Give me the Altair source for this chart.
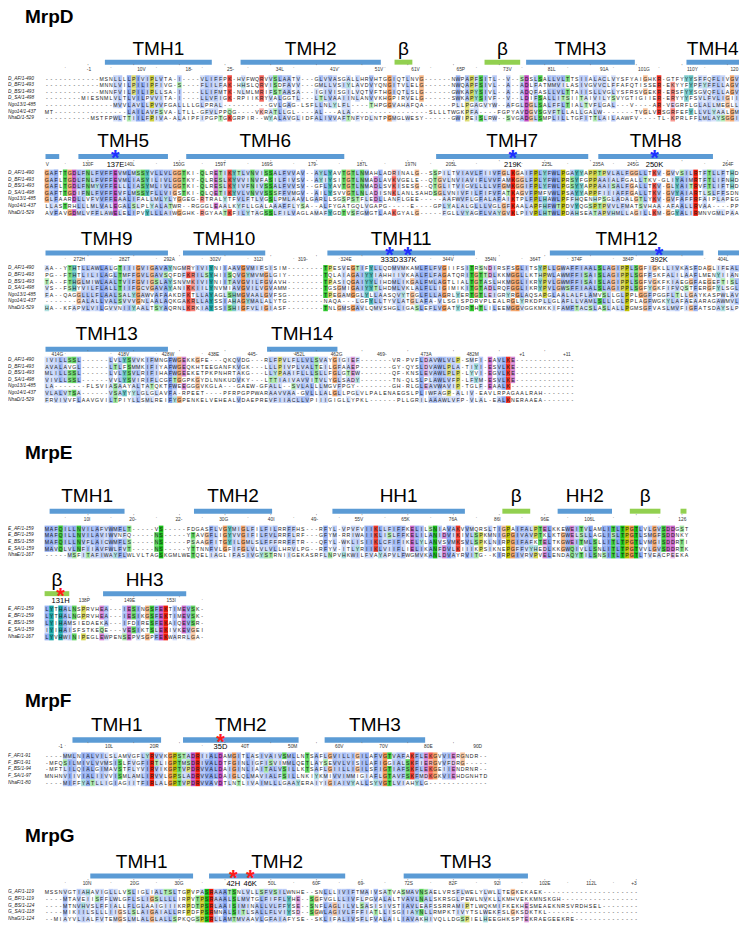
import altair as alt
import pandas as pd

alt.data_transformers.disable_max_rows()

# ------------------------------------------------------------------ data
D_NAMES = ["D_AF/1-490", "D_BF/1-493", "D_BS/1-493", "D_SA/1-498", "Ngo13/1-485", "Ngo14/1-437", "NhaD/1-529"]
D_B1 = [
    "------------MSNLLLLPIVIPLVTA-I----VLIFFPK-HVFWQRVVSLAATV---GLVVASGALLHRVHTGGIQTLNVG------NWPAPFSITL--V--SDSLSALLVLTTSIIALACLVYSFYAIGHKR-GTFYYYSFFQFLIVGVH",
    "------------MNNLVILPILIPFIVG-S----FLILFAK-HHSLQRVISDFAVV---GMLLVSIYLAVDVYQNGITVLELG------NWQAPFSIVL--A--ADLFATMMVILASIVGVVCLFFAFQTISSER-EKYYFYPFYFFLLAGVN",
    "------------MNNFVILPILIPLLSA-I----LLIFMTK-NLMLMRIFSTAASA---IGIVISGILVQTVFTHGIQTLSLG------GWKAPYSIVL--A--ADQFASLLVLTTAIISLLVGLYSFRSVGEKR-ERSFYYSGVQFLLAGVS",
    "--------MIESNMLVLTLVILPVVITA-I----LLVFIGK-RPIIKRYVALGGTL---LTLVAAIINLANVVKHGPIRVELG------SWKAPYSIVF--V--LDIFSALLITSIITAIVILYSVYGTIGIIER-ERYYYFSVLFVLIGIIL",
    "---------------MVVLAVLLPVVFGALLLLGLPRAL----------GVLGAG-LSFLLNLYLFL----THPGGVAHAFQA------PLLPGAGVYW--AFGLDGLSALFFLTIALTVFLGAL---V----AR-VEGRFLGLALLMEGLLL",
    "MT----------------LAILAVFSVA-LTLL-GFVLPPQG----VKRATLLGL----AL---ALA-----------------SLLLTWGKPFA----FGPYAVDGVSGVFTLLALLGALW-------TVGLVRSGRFEFYLLVLYAALGMH",
    "----------MSTFPWLTTIILFPIVA-ALAIPFIPGPTGKGRPIR--WYALAVGLIDFALIVVAFTNFYDLNTPGMGLWESY------GWIPEISLRW--SVGADGLSMPLILLTGFITTLAILAAWFV----TL-KPRLFFLMLAYSGGI",
]
D_B2 = [
    "GAFTTGDLFNLFVFFEVMLMSSYVLLVLGGTKI-QLRETIKYTLVNVISSALFVVAV--AYLYAVTGTLNMAHLADRINALG--SSPILTVIAVLFIIVFGLKGAIFPLYFWLPGAYYAPPTPVLALFGGLLTKV-GVVSILRTFTLLFTHD",
    "GAFLTGDLFNLFVFFEVMLIASYILIVLGGTKY-QLRESLKYVVINVFASILFIVSV--AYIYSITGTLNMADLAVKVGELE--QTGVLNVIAVIFLVVFAMKGGLFPLYFWLPRSYFGPPAAIALFGALLTKV-GLIYAIMRTFTLIFNHD",
    "GAFLTGDLFNMYVFFELLLIASYMLIVLGGTKI-QLRESLKYIVFNIVSSALFVVSV--GFLYAVTGTLNMADLSVKISESG--QTGLITVIGVLLLLVFGMKGGIFPLYFWLPGSYYAPPAAISALFGALLTKV-GLYAITRVFTLIFTHD",
    "GAFTTGDIFNLFVFFEVFLMSSYFLLVIGSTKI-QLQETIKYVLVNVVSSSFFVMGV--AILYSVVGTLNLADISNKLANLSAHDSGLVNIVFILFIFVFATKAGVFPMFVWLPSAYYAPPFIIIAFFGALLTKV-GVYAIARTLSLFFSDN",
    "GLFAARDLLVFVVFFEAALIFALLMLYLYGGEG-RTRALYTFVLFTLVGSLPMLAAVLGARLLSGSPSTFLEDLLANFLGEE-----AAFWVFLGFALAFAIKTPLFPLHAWLPFFHQENHPSGLADALGTLYKV-GVFAFFRFAIPLAPEG",
    "LLASTRHLLLMLVALEGALSLPLYALATWR--RGGGLEAALKYFLLGALAAAFFLYSA--ALFYGATGQLVGAPG-----E----GPLYALALGLLLVGLGFKAALAPFHFWTPDVYQGSPTPVVLFMATSVHAA-AFAALLRVAA----PP--",
    "AVFAVGDMLVFFLAWELELIPVYLLLAIWGGHK-RGYAATKFILYTAGSSLFILVAGLAMAFYGDTVSFGMGTLAAKGYALG-----FGLLVYAGFLVAYGVKLPIVPLHTWLPDAHSEATAPVHMLLAGILLKM-GGYALIRMNVGMLPAA",
]
D_B3 = [
    "AA--YTHTLLAWLALGTIIIGVIGAVAYNGMRYIVIYNIIAAVGVMIFSISIM--------TPESVEGTIFYLLQDMVMKAMLFLFVGIIFSITRSNDIRSFSGLITSYPLLGWAFFIAALSLAGIPPLSGFIGKLLIVKASFDAGLIFEAL",
    "PG--FTHTLILILAGLTMFFGVLGAVSQFDFKRILSYHIISQVGYMVMGLGIY--------TQLAIAGAIYYIAHHIIVKAALFLFAGATQRITGTTDLKKMGGLLKTHPWLAWMFFISAISLAGIPPLSGFFSKFALILAAFLMENYIIAN",
    "TA--FTHGLMIWLAALTVIFGVIGSLAYSNVMKIVIYNIITAVGVILFGVAVH--------TPASIQGAIYYLIHDMLIKGALFMLAGTLIALTGTASLHKMGGLIKRYPVLGWMFFISAISLAGIPPLSGFVGKFKIAEGGFAEGEFTISL",
    "VS--FSHYVILFLALLTIIFGCVGAVAYANIKKIILYNVMIAVGVILVGVAMM--------TGSGMIGAIYYTLHDMLVKLALFLLIGIMIKITGTADLRQFGGLIKRYPVLGWSFFIAALSLAGIPPLSGFYGKFIFVQSTFERGFYLSGL",
    "FA--QAGGLLLFLAALSALYGAWVAFAAKDFKTLLAYAGLSHMGVAALGVFSG--------TPEGAMGGLYLLAASQVYTGGLFLLAGRLYERTGTLEIGRYRGLAQSAPGLAALALFLAMVSLLGLPPLGGFPGGFLTLLGAYKASPWLAVA",
    "-------GALALLVALSVVVGNLAALAQKGAKRLLAYSSIAHAGYMALALYTG--------NAQA---LGFYLLTYVLATGLAFA-VLSGISPDRVPLEALRGLYRKDPLLGLAFLLVAMLSLLLGLPPLAGFWGKYLAFAEAARAGAWMVLV",
    "HA--KFAPVLVILGVVNIIYAALTSYAQRNLKRKIAYSSISHIGFVLIGIASF--------TNLGMSGAVLQMVSHGLIGASLEFLVGATYDRTHTLILEEMGGVGGKMKKIFAMFTACSLASLALLPGMSGFVASLMVFIGFATSDAYSLP",
]
D_B4 = [
    "IVILLSSL------LVLYSVVKIFMNGFWGEKKGFE---QKQVDG---RLFPVLFLLVLSVAYGIGIEF-------VR-PVFLDAVWLVLP-SMFI-EAVLKE------------",
    "AVALAVGL------LTLFSMMKIFIYAFWGEQKHTEEGANFKVGK---LLLPIVPLVALTEILGFAAEP-------GY-QYSLDVAWLPLA-TIYI-ESVLKE------------",
    "MLILLSSL------LVLYSVLRIFIHAFWGEEKETPKPNHRTAKG---LLYPAAIFLLLSLLFGLGTEW-------QF-KNSLEVAWLPLP-LYVI-EGVLKE------------",
    "VIVLLSSL------VVLYSVIRIFLCGFTGGPKGYDLNNKUDVKY---LTTIAIVAVVITVLYGLSADY-------TN-QLSLPLAWLVFP-LFYM-ESVLKE------------",
    "LA-------FLSVIASAAYALTATQKTFWEEGGGVKGLA---GAEW-GFALL--SVLALLLMGVFPGY--------GH-RLGLEAVWAVIP-TGLF-EAALK-------------",
    "VLALVTSA------VSAYYYLGLGLAVFA-RPEET----PFRPGPPWARAAVVAA-GVLLLALGLLPGLVLPALENAEGSLPLIWFAGP-ALIV-EAVLRPAGAALRAH------",
    "FRVIVVFLAAVGVILTPIYLLSMLREIFYGPENKELVEHEALVDAEPREVFIIACLLVPIIIGIGLLYPKL------PLLGRILAAAWLVFP-VLAL-EALKNERAAEA-------",
]
D_B1_BARS = [("TMH1", "h", 13.2, 36.6), ("TMH2", "h", 42.9, 73.6), ("β", "b", 76.6, 80.5), ("β", "b", 96.3, 104.1),
             ("TMH3", "h", 105.4, 129.2), ("TMH4", "h", 140.5, 152)]
D_B2_BARS = [("", "h", 0.2, 3.2), ("TMH5", "h", 7.4, 27), ("TMH6", "h", 31, 65.6), ("TMH7", "h", 85.7, 119), ("TMH8", "h", 121.2, 146.3)]
D_B3_BARS = [("TMH9", "h", 0.2, 27), ("TMH10", "h", 30.3, 48.3), ("TMH11", "h", 61.9, 94.2), ("TMH12", "h", 110.6, 144.2), ("", "h", 147.4, 152)]
D_B4_BARS = [("TMH13", "h", 0.2, 27), ("TMH14", "h", 48.7, 64.1)]
D_B1_TICKS = [(9.7, "-1"), (21.2, "10V"), (31.6, "18-"), (40.7, "25-"), (51.5, "34L"), (63.4, "41V"), (73.2, "51V"), (81.2, "61V"),
              (91.1, "65P"), (101.3, "73V"), (111, "81L"), (122.5, "91A"), (131.2, "101G"), (141.8, "110Y"), (151, "120")]
D_B2_TICKS = [(0.6, "V"), (9.5, "130F"), (18.6, "140L"), (29.4, "150G"), (38.5, "159T"), (48.7, "169S"), (58.7, "179-"), (69.5, "187L"),
              (80.1, "197N"), (89, "205L"), (110, "225L"), (121.2, "235A"), (128.8, "245G"), (149.6, "264F")]
D_B3_TICKS = [(7.6, "272H"), (17.5, "282T"), (27.3, "292A"), (37.4, "302V"), (46.8, "312I"), (56.5, "319-"), (66, "324E"),
              (88.3, "344V"), (97.6, "354N"), (107.4, "364T"), (116.5, "374F"), (127.7, "384P"), (148.5, "404L")]
D_B4_TICKS = [(2.8, "414G"), (17.3, "418V"), (27, "428W"), (37, "438E"), (45.5, "445-"), (55.8, "452L"), (63.9, "462G"),
              (73.8, "469-"), (83.5, "473A"), (93.7, "482M"), (104.5, "+1"), (114.3, "+11")]
D_B2_SITES = [(15.5, "137E"), (102.5, "219K"), (133.5, "250K")]
D_B3_SITES = [(75.5, "333D"), (79.5, "337K"), (134.5, "392K")]

E_NAMES = ["E_AF/1-159", "E_BF/1-159", "E_BS/1-158", "E_SA/1-159", "NhaE/1-167"]
E_B1 = [
    "MAFQILLNVILAFVWMFLT-----VS-----FDGASFLVGYMIGLFILFILRRFFHS---RFYL-VPVFVIIKLLFIFFKELILSNIAVAKVVMQRSLTIGPAIFALPTELKKEWEITVLAMLITLTPGTLVLGVSDDGST",
    "MAFQILLNVILAVIWVNFQ-----NS-----YTAVGFLIGYVVGIFILFVLRRFLRF---GFYM-RRIWAIIKLISLFFKELILANIDVIKIVLSPKMNIGPGIVAVPTKLKTGWELSLLAGLISLTPGTLSMGFSDDNKY",
    "MAFQILLNVFLAICWMFLS-----NS-----PSAAGFITGYILGMLSLFFFRRFFTR---QFYL-WKLISIIKLCFIFIKELYLANVSVMKSVLSPKLNIRPGIFAFKTELTKGWEITMLSLLITLTPGTLVMGISDDRTI",
    "MAVQLVLNFIIAVFWLFVT-----NS-----YTTNNFVLGFIFGLVLVLVLLHRVLPG--RFYV-ITLYRIIKLVIIFLIELIKANFDVLKIIIKPSIKNEPGFFVYHEDLKKGWQIVLLSNLITLTPGTVVLGVSDDRTK",
    "-----MSFITAFIWAYFLWLVLTAGSKGMLWETQELIAGLIFASIVGYSTRNIIGEKASRFLNPVHKWILFVAYAPVLFWGMVKANLDVAYRVITG--KIRPGIVRVPVELENDAQYTILSNSITLTPGTLTVEACPEEKA",
]
E_B2 = [
    "LYTHALNSPRVHEA---IESINGSFEKTIMEVSK-",
    "LYTHALNGPRVHEA---IESIKGSFEKTIMEVSK-",
    "LYIHAMSIEDAEKA---IFDIRESFEKAIQEVSR-",
    "IYIHAISFSTKEQE---VESIKTSLEKIVKEVGEI",
    "LYVHWINIPEGLEWPENSEPVSGPFEKWARRLGA-",
]
E_B1_BARS = [("TMH1", "h", 1.1, 17.5), ("TMH2", "h", 32.7, 49.8), ("HH1", "h", 63, 92), ("β", "b", 100.2, 106.3),
             ("HH2", "h", 112.3, 124.2), ("β", "b", 128.1, 134.8), ("", "b", 139.2, 140.5)]
E_B2_BARS = [("β", "b", 0, 5.4), ("HH3", "h", 12.8, 31)]
E_B1_TICKS = [(9.3, "10I"), (19.3, "20-"), (29.4, "22-"), (39.2, "30G"), (49.6, "40I"), (59.1, "49-"), (68.8, "55V"),
              (79, "65K"), (89.4, "76A"), (99.1, "86I"), (109.5, "96E"), (119.3, "106L"), (139.6, "126")]
E_B2_TICKS = [(8.7, "138P"), (18.6, "149E"), (27.7, "153I")]
E_B2_SITES = [(3.5, "131H")]

F_NAMES = ["F_AF/1-91", "F_BF/1-91", "F_BS/1-94", "F_SA/1-97", "NhaF/1-80"]
F_B1 = [
    "----MMLNIALVILSLAMVGFLYRVVKGPSTADRIIALDAMGITLASIVAIVSMLLNTSAFLGVILLIGILAFVGTVAFAKFLEKGVVIERGNDR--",
    "-MFQSILMIVLVVMSISLFVGFIRTLIGPTMSDRIVALDTFGINLIGFISVIMMLQETLAYSEVVLVISILAFIGGIALSKFIERGVVFDRG-----",
    "-MFTLILQIALGIMAVSTFLYVIRVIKGPTVPDRVVALDAIGINLIAITALVSILLKTSAFLGIILLIGILSFIGTIAFSKFLEKGEIIENDRNR--",
    "MNHNVIIVIALIIVVISMLAMLIRVVLGPSLADRVVALDAIGLQLMAVIALFSILLNKIYKMIVVIMMIGIAFLGTAVFSKFMDKGKVIEHDGNHTD",
    "----MIFFYATLLIGIAGIITFIRLALGPTVPDRVVAVDTLNTLIVAIMLLLGAAYERAIYIGIAIVYALLSYVGTLVIAHYLG-------------",
]
F_B1_BARS = [("TMH1", "h", 6.1, 25.5), ("TMH2", "h", 30.3, 55.6), ("TMH3", "h", 61.3, 83.3)]
F_B1_TICKS = [(3.5, "-1"), (14.1, "10L"), (24, "20R"), (43.9, "40T"), (54.3, "50M"), (64.5, "60V"), (74.2, "70V"), (84, "80E"), (94.8, "90D")]
F_B1_SITES = [(38.5, "35D")]

G_NAMES = ["G_AF/1-119", "G_BF/1-119", "G_BS/1-124", "G_SA/1-118", "NhaG/1-124"]
G_B1 = [
    "MSSNVGTIAHAVIGLLLVSLIGLIALTSLTGPVPASRAAATSNLVLLSFVSILWNHE--SNLLLIVIFTMAIVSATVASMAVNSAELVRSFLWELYLWLLTEGKEKAEK---------------",
    "----MTAVEIISFFLWLGFLSLIGSLLLLIRPVTPSRAAALSLMVTGLFIFFLYHE--SGFVGLLLIVFLPGVALALTVAVLNALSKRSGLPEWLNVKLLKMHVEKKMNSKGH----------",
    "----MTNVHVSLFFIALLFLGLAAIGIIIKRPDTPSRLAAISIMINALLVLFFYSE--SNFLAGLILVLSASISIVSTIAVLEAFSSRRAMIPTLWQKMIFKEKHESMEAEKNRSVRDHSEL",
    "----MIKIILSLLLIIGSLSLAIGAIALLRFPDFPSRMNALSITLSALLFLVIYSD--SGWLAGIVLFFFIATLLISGIIAYNLLRMPKTIVYTSLWEKFSLGKSDKTKL----------",
    "--MIAYVLIALFVTEMGSLMLALGLALLSPKQGSPSRLLAMTMVAAVLGFAIAFYSE--SKLIFALIVSFLFVALAILIAVAKHIVQLLDGSPIELHEEGHKSPTEKRAEGEEKRE------",
]
G_B1_BARS = [("TMH1", "h", 10, 32.5), ("TMH2", "h", 36, 65.8), ("TMH3", "h", 78.6, 105.8)]
G_B1_TICKS = [(9.3, "10N"), (19.7, "20G"), (29.4, "30G"), (49.8, "50L"), (59.5, "60F"), (69.3, "69-"), (79.7, "72S"),
              (89.4, "82F"), (99.1, "92I"), (109.5, "102E"), (119.7, "112L"), (129, "+3")]
G_B1_SITES = [(41.3, "42H"), (45, "46K")]

TITLES = ["MrpD", "MrpE", "MrpF", "MrpG"]

# ------------------------------------------------------------------ layout (reference-pixel units for y)
# label baseline, bar top, bar bottom, ruler y, first row y, row step, star colour
LAYOUT = {
    "D1": (50, 55, 60, 65, 74, 6.65, None),
    "D2": (143, 150, 155, 161.5, 169, 6.65, "#2030ff"),
    "D3": (242, 247, 252, 256.7, 265, 6.65, "#2030ff"),
    "D4": (337, 344, 349, 352, 357.3, 6.65, None),
    "E1": (500, 507, 512, 518, 527.3, 6.6, None),
    "E2": (585, 590, 595, 600, 608, 7.0, "#ff1a1a"),
    "F1": (731, 737, 742.5, 747, 755.7, 6.8, "#ff1a1a"),
    "G1": (868.5, 874.3, 879.3, 885, 893, 6.75, "#ff1a1a"),
}
TITLE_Y = [18.5, 457, 707, 842]
NCOLS = {"D1": 152, "D2": 152, "D3": 152, "D4": 116, "E1": 141, "E2": 35, "F1": 97, "G1": 130}

BLOCKS = [
    ("D1", D_NAMES, D_B1, D_B1_BARS, D_B1_TICKS, []),
    ("D2", D_NAMES, D_B2, D_B2_BARS, D_B2_TICKS, D_B2_SITES),
    ("D3", D_NAMES, D_B3, D_B3_BARS, D_B3_TICKS, D_B3_SITES),
    ("D4", D_NAMES, D_B4, D_B4_BARS, D_B4_TICKS, []),
    ("E1", E_NAMES, E_B1, E_B1_BARS, E_B1_TICKS, []),
    ("E2", E_NAMES, E_B2, E_B2_BARS, E_B2_TICKS, E_B2_SITES),
    ("F1", F_NAMES, F_B1, F_B1_BARS, F_B1_TICKS, F_B1_SITES),
    ("G1", G_NAMES, G_B1, G_B1_BARS, G_B1_TICKS, G_B1_SITES),
]

# ------------------------------------------------------------------ Clustal-X style colouring
HYD = "WLVIMAFCHP"
BASE = {"blue": (0x80, 0xa0, 0xf0), "red": (0xf0, 0x15, 0x05), "green": (0x15, 0xc0, 0x15), "pink": (0xf0, 0x80, 0x80),
        "magenta": (0xc0, 0x48, 0xc0), "orange": (0xf0, 0x90, 0x48), "yellow": (0xc0, 0xc0, 0x00), "cyan": (0x15, 0xa4, 0xa4)}


def clustal(col, r):
    n = len(col)

    def f(s):
        return sum(1 for c in col if c in s) / n

    if r in "AILMFWV":
        return "blue" if f(HYD) > 0.6 else None
    if r == "C":
        if f(HYD) > 0.6:
            return "blue"
        return "pink" if f("C") > 0.85 else None
    if r in "KR":
        return "red" if (f("KR") > 0.6 or f("K") > 0.8 or f("R") > 0.8 or f("KRQ") > 0.85) else None
    if r == "E":
        return "magenta" if (f("KR") > 0.6 or f("QE") > 0.5 or f("E") > 0.5 or f("DE") > 0.5 or f("EQD") > 0.85) else None
    if r == "D":
        return "magenta" if (f("KR") > 0.6 or f("KRQ") > 0.85 or f("DE") > 0.5) else None
    if r == "N":
        return "green" if (f("N") > 0.5 or f("NY") > 0.85) else None
    if r == "Q":
        return "green" if (f("KR") > 0.6 or f("QE") > 0.5 or f("QEKR") > 0.85) else None
    if r in "ST":
        return "green" if (f(HYD) > 0.6 or f("TS") > 0.5 or f("ST") > 0.85) else None
    if r == "G":
        return "orange"
    if r == "P":
        return "yellow"
    if r in "HY":
        return "cyan" if (f(HYD) > 0.6 or f("WYACPQFHILMV") > 0.85) else None
    return None


def shade(name, s):
    r, g, b = BASE[name]
    mix = [round(255 * (1 - s) + v * s) for v in (r, g, b)]
    return "#%02x%02x%02x" % tuple(mix)


cells, names, bars, labels, ticks, dots, stars, sites = [], [], [], [], [], [], [], []
for key, nm, seqs, bl, tk, st in BLOCKS:
    lab_y, b1, b2, ruler_y, row0, step, star_col = LAYOUT[key]
    nc = NCOLS[key]
    rows = [s[:nc].ljust(nc, "-") for s in seqs]
    n = len(rows)
    for i, name in enumerate(nm):
        names.append({"x": -8.0, "y": row0 + i * step, "t": name})
    for c in range(nc):
        col = [r[c] for r in rows]
        for i, ch in enumerate(col):
            yc = row0 + i * step
            cl = clustal(col, ch) if ch != "-" else None
            colr = None
            if cl:
                ident = col.count(ch) / n
                if not (cl in ("orange", "yellow") and ident < 0.4):
                    colr = shade(cl, min(1.0, 0.22 + 0.78 * ident))
            cells.append({"x": c + 0.5, "x1": c, "x2": c + 1, "y": yc, "y1": yc - step / 2, "y2": yc + step / 2,
                          "t": ch, "c": colr})
    for lab, kind, s0, s1 in bl:
        bars.append({"x1": s0, "x2": s1, "y1": b1, "y2": b2, "c": "#5b9bd5" if kind == "h" else "#92d050"})
        if lab:
            labels.append({"x": (s0 + s1) / 2, "y": lab_y, "t": lab})
    for cpos, t in tk:
        ticks.append({"x": cpos, "y": ruler_y, "t": t})
    for c in range(4, nc, 5):
        dots.append({"x": c + 0.5, "y": ruler_y - 3.2, "t": "." if (c + 1) % 10 else "'"})
    for cpos, t in st:
        stars.append({"x": cpos, "y": (b1 + b2) / 2 + 9.0, "t": "*", "c": star_col})
        sites.append({"x": cpos, "y": ruler_y, "t": t})

for t, y in zip(TITLES, TITLE_Y):
    labels.append({"x": -4.3, "y": y, "t": t, "title": True})

cells_df = pd.DataFrame(cells)
col_df = cells_df[cells_df["c"].notna()]
lab_df = pd.DataFrame([l for l in labels if not l.get("title")])
tit_df = pd.DataFrame([{"x": l["x"], "y": l["y"], "t": l["t"]} for l in labels if l.get("title")])

XS = alt.Scale(domain=[-8.01, 152], nice=False, zero=False)
YS = alt.Scale(domain=[5, 923], nice=False, zero=False, reverse=True)
X = alt.X("x:Q", scale=XS, axis=None)
Y = alt.Y("y:Q", scale=YS, axis=None)

rect_layer = alt.Chart(col_df).mark_rect(strokeWidth=0).encode(
    x=alt.X("x1:Q", scale=XS, axis=None), x2="x2:Q",
    y=alt.Y("y1:Q", scale=YS, axis=None), y2="y2:Q",
    color=alt.Color("c:N", scale=None))
res_layer = alt.Chart(cells_df).mark_text(font="Liberation Sans", fontSize=5.2, color="#222222", baseline="middle").encode(
    x=X, y=Y, text="t:N")
name_layer = alt.Chart(pd.DataFrame(names)).mark_text(font="Liberation Sans", fontSize=4.8, fontStyle="italic",
                                                      color="#222222", align="left", baseline="middle").encode(x=X, y=Y, text="t:N")
bar_layer = alt.Chart(pd.DataFrame(bars)).mark_rect().encode(
    x=alt.X("x1:Q", scale=XS, axis=None), x2="x2:Q",
    y=alt.Y("y1:Q", scale=YS, axis=None), y2="y2:Q", color=alt.Color("c:N", scale=None))
lab_layer = alt.Chart(lab_df).mark_text(font="Liberation Sans", fontSize=19, color="#000000", baseline="alphabetic").encode(
    x=X, y=Y, text="t:N")
tit_layer = alt.Chart(tit_df).mark_text(font="Liberation Sans", fontSize=19, fontWeight="bold", color="#000000",
                                        align="left", baseline="alphabetic").encode(x=X, y=Y, text="t:N")
tick_layer = alt.Chart(pd.DataFrame(ticks)).mark_text(font="Liberation Sans", fontSize=4.8, color="#333333",
                                                      baseline="middle").encode(x=X, y=Y, text="t:N")
dot_layer = alt.Chart(pd.DataFrame(dots)).mark_text(font="Liberation Sans", fontSize=5, color="#555555",
                                                    baseline="middle").encode(x=X, y=Y, text="t:N")
star_layer = alt.Chart(pd.DataFrame(stars)).mark_text(font="Liberation Sans", fontSize=22, fontWeight="bold",
                                                      baseline="alphabetic").encode(
    x=X, y=Y, text="t:N", color=alt.Color("c:N", scale=None))
site_layer = alt.Chart(pd.DataFrame(sites)).mark_text(font="Liberation Sans", fontSize=7.5, color="#000000",
                                                      baseline="middle").encode(x=X, y=Y, text="t:N")

chart = alt.layer(rect_layer, res_layer, name_layer, bar_layer, lab_layer, tit_layer, tick_layer, dot_layer,
                  star_layer, site_layer).properties(width=731, height=912, padding=0).configure_view(stroke=None)

chart.save("out.html", embed_options={"renderer": "svg", "actions": False})
